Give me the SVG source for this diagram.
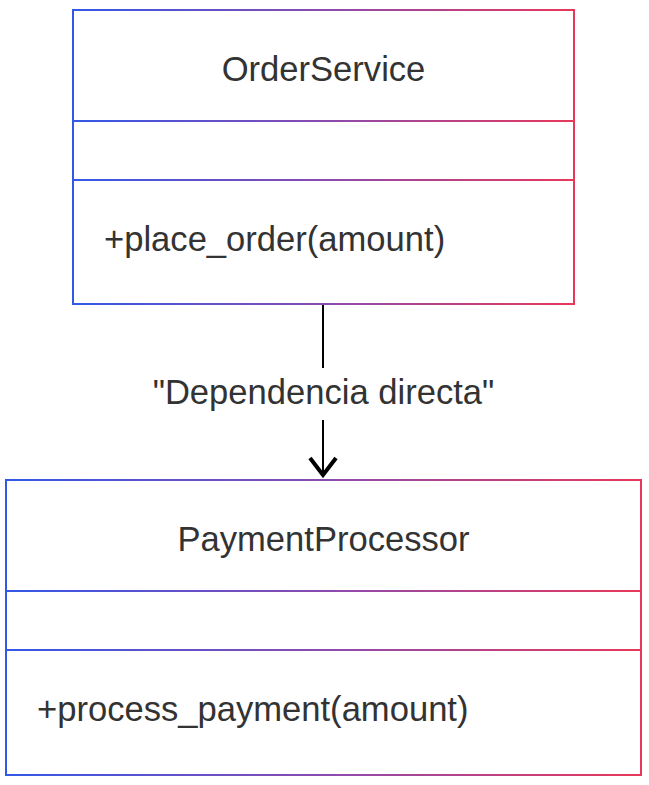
<svg xmlns="http://www.w3.org/2000/svg" width="649" height="785" viewBox="0 0 649 785">
<defs>
<linearGradient id="g1" gradientUnits="userSpaceOnUse" x1="73" y1="0" x2="574" y2="0">
<stop offset="0" stop-color="#3358e8"/><stop offset="0.5" stop-color="#8a4bb0"/><stop offset="1" stop-color="#e8385a"/>
</linearGradient>
<linearGradient id="g2" gradientUnits="userSpaceOnUse" x1="6" y1="0" x2="641" y2="0">
<stop offset="0" stop-color="#3358e8"/><stop offset="0.5" stop-color="#8a4bb0"/><stop offset="1" stop-color="#e8385a"/>
</linearGradient>
</defs>
<style>
text{font-family:"Liberation Sans",Arial,sans-serif;font-size:34.6px;fill:#333333}
.c{text-anchor:middle}
.b1{fill:#ffffff;stroke:url(#g1);stroke-width:2}
.b2{fill:#ffffff;stroke:url(#g2);stroke-width:2}
.l1{stroke:url(#g1);stroke-width:2}
.l2{stroke:url(#g2);stroke-width:2}
.edge{stroke:#000000;stroke-width:2;fill:none}
.head{stroke:#000000;stroke-width:4;fill:none;stroke-linejoin:miter;stroke-miterlimit:10}
</style>
<rect width="649" height="785" fill="#ffffff"/>
<g id="OrderService">
<rect class="b1" x="73" y="10" width="501" height="294"/>
<line class="l1" x1="73" y1="121" x2="574" y2="121"/>
<line class="l1" x1="73" y1="180" x2="574" y2="180"/>
<text class="c" x="323.5" y="81">OrderService</text>
<text x="104" y="251">+place_order(amount)</text>
</g>
<g id="PaymentProcessor">
<rect class="b2" x="6" y="480" width="635" height="295"/>
<line class="l2" x1="6" y1="591" x2="641" y2="591"/>
<line class="l2" x1="6" y1="650" x2="641" y2="650"/>
<text class="c" x="323.5" y="551">PaymentProcessor</text>
<text x="37" y="721">+process_payment(amount)</text>
</g>
<g id="connectors">
<line class="edge" x1="323" y1="305" x2="323" y2="368"/>
<line class="edge" x1="323" y1="420" x2="323" y2="474"/>
<polyline class="head" points="310,458 323,475 336,458"/>
<text class="c" x="323.5" y="404">"Dependencia directa"</text>
</g>
</svg>
